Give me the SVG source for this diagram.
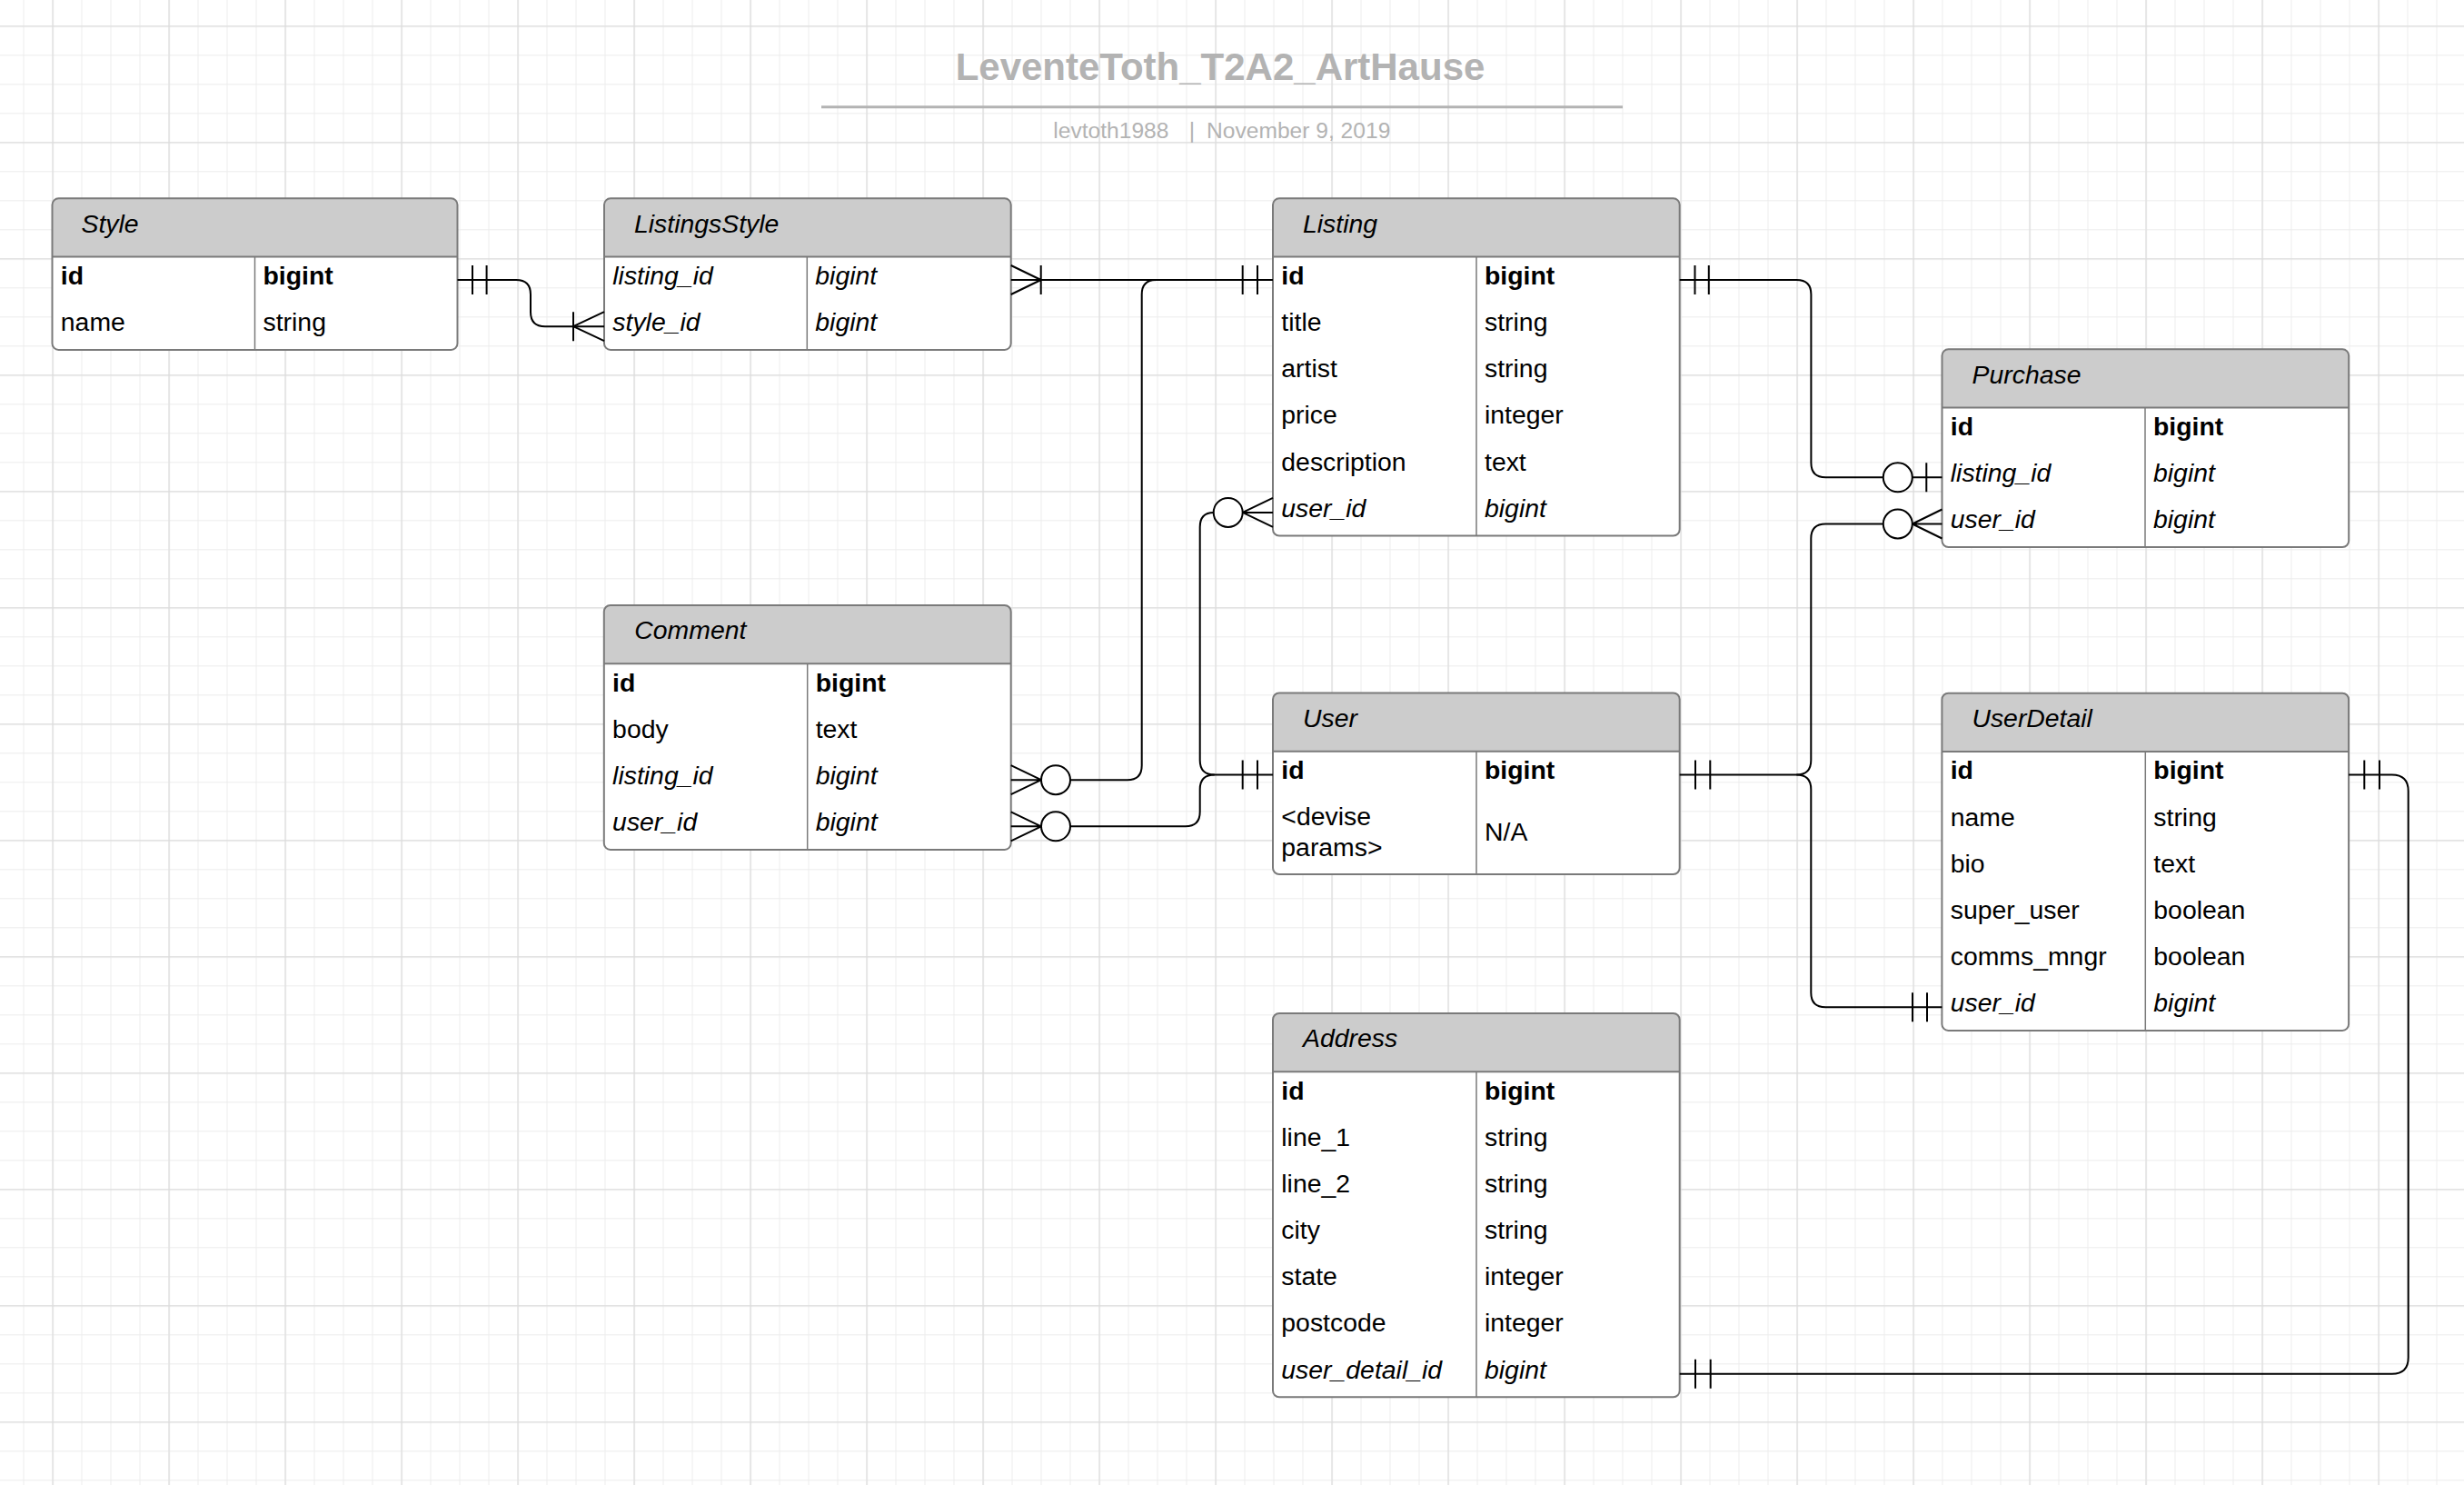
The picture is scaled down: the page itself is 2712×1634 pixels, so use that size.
<svg xmlns="http://www.w3.org/2000/svg" width="2712" height="1634" viewBox="0 0 2712 1634">
<defs>
<pattern id="gMinor" patternUnits="userSpaceOnUse" x="25.5" y="28.3" width="32" height="32">
<rect x="0" y="0" width="1" height="32" fill="#ececec"/>
<rect x="0" y="0" width="32" height="1" fill="#ececec"/>
</pattern>
<pattern id="gMajor" patternUnits="userSpaceOnUse" x="57.5" y="28.3" width="128" height="128">
<rect x="0" y="0" width="1.2" height="128" fill="#dcdcdc"/>
<rect x="0" y="0" width="128" height="1.2" fill="#dcdcdc"/>
</pattern>
<style>
.t{font-family:"Liberation Sans",Arial,sans-serif;font-size:28.4px;fill:#000}
.b{font-weight:bold}
.i{font-style:italic}
.box{fill:none;stroke:#7a7a7a;stroke-width:2}
.hdr{fill:#cccccc}
.sep{stroke:#7a7a7a;stroke-width:2;fill:none}
.div{stroke:#7a7a7a;stroke-width:1.5;fill:none}
.bg{fill:#ffffff}
.ln{fill:none;stroke:#000;stroke-width:2}
.ci{fill:#ffffff;stroke:#000;stroke-width:2}
.ttl{font-family:"Liberation Sans",Arial,sans-serif;font-size:42px;font-weight:bold;fill:#b3b3b3}
.sub{font-family:"Liberation Sans",Arial,sans-serif;font-size:24.6px;fill:#b3b3b3}
</style>
</defs>
<rect width="2712" height="1634" fill="#ffffff"/>
<rect width="2712" height="1634" fill="url(#gMinor)"/>
<rect width="2712" height="1634" fill="url(#gMajor)"/>

<g id="title">
<text class="ttl" x="1343" y="88.3" text-anchor="middle">LeventeToth_T2A2_ArtHause</text>
<line x1="904" y1="117.7" x2="1786" y2="117.7" stroke="#b3b3b3" stroke-width="3"/>
<text class="sub" x="1159.3" y="151.7">levtoth1988</text>
<text class="sub" x="1312" y="151.7" text-anchor="middle">|</text>
<text class="sub" x="1328" y="151.7">November 9, 2019</text>
</g>

<g id="Style">
<rect class="bg" x="57.5" y="218.3" width="446" height="166.6" rx="7"/>
<path class="hdr" d="M57.5 282.6 V225.3 Q57.5 218.3 64.5 218.3 H496.5 Q503.5 218.3 503.5 225.3 V282.6 Z"/>
<path class="sep" d="M57.5 282.6 H503.5"/>
<path class="div" d="M280.5 282.6 V384.9"/>
<rect class="box" x="57.5" y="218.3" width="446" height="166.6" rx="7"/>
<text class="t i" x="89.5" y="255.6">Style</text>
<text class="t b" x="66.8" y="313">id</text><text class="t b" x="289.5" y="313">bigint</text>
<text class="t" x="66.8" y="364.15">name</text><text class="t" x="289.5" y="364.15">string</text>
</g>

<g id="ListingsStyle">
<rect class="bg" x="665" y="218.3" width="447.7" height="166.6" rx="7"/>
<path class="hdr" d="M665 282.6 V225.3 Q665 218.3 672 218.3 H1105.7 Q1112.7 218.3 1112.7 225.3 V282.6 Z"/>
<path class="sep" d="M665 282.6 H1112.7"/>
<path class="div" d="M888.3 282.6 V384.9"/>
<rect class="box" x="665" y="218.3" width="447.7" height="166.6" rx="7"/>
<text class="t i" x="698" y="255.6">ListingsStyle</text>
<text class="t i" x="674.3" y="313">listing_id</text><text class="t i" x="897.3" y="313">bigint</text>
<text class="t i" x="674.3" y="364.15">style_id</text><text class="t i" x="897.3" y="364.15">bigint</text>
</g>

<g id="Listing">
<rect class="bg" x="1401" y="218.3" width="447.7" height="371.2" rx="7"/>
<path class="hdr" d="M1401 282.6 V225.3 Q1401 218.3 1408 218.3 H1841.7 Q1848.7 218.3 1848.7 225.3 V282.6 Z"/>
<path class="sep" d="M1401 282.6 H1848.7"/>
<path class="div" d="M1625 282.6 V589.5"/>
<rect class="box" x="1401" y="218.3" width="447.7" height="371.2" rx="7"/>
<text class="t i" x="1434" y="255.6">Listing</text>
<text class="t b" x="1410.3" y="313">id</text><text class="t b" x="1634" y="313">bigint</text>
<text class="t" x="1410.3" y="364.15">title</text><text class="t" x="1634" y="364.15">string</text>
<text class="t" x="1410.3" y="415.3">artist</text><text class="t" x="1634" y="415.3">string</text>
<text class="t" x="1410.3" y="466.45">price</text><text class="t" x="1634" y="466.45">integer</text>
<text class="t" x="1410.3" y="517.6">description</text><text class="t" x="1634" y="517.6">text</text>
<text class="t i" x="1410.3" y="568.75">user_id</text><text class="t i" x="1634" y="568.75">bigint</text>
</g>

<g id="Purchase">
<rect class="bg" x="2137.5" y="384.3" width="447.7" height="217.75" rx="7"/>
<path class="hdr" d="M2137.5 448.6 V391.3 Q2137.5 384.3 2144.5 384.3 H2578.2 Q2585.2 384.3 2585.2 391.3 V448.6 Z"/>
<path class="sep" d="M2137.5 448.6 H2585.2"/>
<path class="div" d="M2361 448.6 V602.05"/>
<rect class="box" x="2137.5" y="384.3" width="447.7" height="217.75" rx="7"/>
<text class="t i" x="2170.5" y="421.6">Purchase</text>
<text class="t b" x="2146.8" y="479">id</text><text class="t b" x="2370" y="479">bigint</text>
<text class="t i" x="2146.8" y="530.15">listing_id</text><text class="t i" x="2370" y="530.15">bigint</text>
<text class="t i" x="2146.8" y="581.3">user_id</text><text class="t i" x="2370" y="581.3">bigint</text>
</g>

<g id="Comment">
<rect class="bg" x="664.8" y="666" width="447.9" height="268.9" rx="7"/>
<path class="hdr" d="M664.8 730.3 V673 Q664.8 666 671.8 666 H1105.7 Q1112.7 666 1112.7 673 V730.3 Z"/>
<path class="sep" d="M664.8 730.3 H1112.7"/>
<path class="div" d="M888.7 730.3 V934.9"/>
<rect class="box" x="664.8" y="666" width="447.9" height="268.9" rx="7"/>
<text class="t i" x="698.3" y="703.3">Comment</text>
<text class="t b" x="674.1" y="760.7">id</text><text class="t b" x="897.7" y="760.7">bigint</text>
<text class="t" x="674.1" y="811.85">body</text><text class="t" x="897.7" y="811.85">text</text>
<text class="t i" x="674.1" y="863">listing_id</text><text class="t i" x="897.7" y="863">bigint</text>
<text class="t i" x="674.1" y="914.15">user_id</text><text class="t i" x="897.7" y="914.15">bigint</text>
</g>

<g id="User">
<rect class="bg" x="1401" y="762.5" width="447.7" height="199.5" rx="7"/>
<path class="hdr" d="M1401 826.8 V769.5 Q1401 762.5 1408 762.5 H1841.7 Q1848.7 762.5 1848.7 769.5 V826.8 Z"/>
<path class="sep" d="M1401 826.8 H1848.7"/>
<path class="div" d="M1625 826.8 V962"/>
<rect class="box" x="1401" y="762.5" width="447.7" height="199.5" rx="7"/>
<text class="t i" x="1434" y="799.8">User</text>
<text class="t b" x="1410.3" y="857.2">id</text><text class="t b" x="1634" y="857.2">bigint</text>
<text class="t" x="1410.3" y="908.3">&lt;devise</text>
<text class="t" x="1410.3" y="941.7">params&gt;</text>
<text class="t" x="1634" y="925">N/A</text>
</g>

<g id="UserDetail">
<rect class="bg" x="2137.4" y="762.7" width="447.7" height="371.2" rx="7"/>
<path class="hdr" d="M2137.4 827 V769.7 Q2137.4 762.7 2144.4 762.7 H2578.1 Q2585.1 762.7 2585.1 769.7 V827 Z"/>
<path class="sep" d="M2137.4 827 H2585.1"/>
<path class="div" d="M2361.3 827 V1133.9"/>
<rect class="box" x="2137.4" y="762.7" width="447.7" height="371.2" rx="7"/>
<text class="t i" x="2170.4" y="800">UserDetail</text>
<text class="t b" x="2146.7" y="857.4">id</text><text class="t b" x="2370.3" y="857.4">bigint</text>
<text class="t" x="2146.7" y="908.55">name</text><text class="t" x="2370.3" y="908.55">string</text>
<text class="t" x="2146.7" y="959.7">bio</text><text class="t" x="2370.3" y="959.7">text</text>
<text class="t" x="2146.7" y="1010.85">super_user</text><text class="t" x="2370.3" y="1010.85">boolean</text>
<text class="t" x="2146.7" y="1062">comms_mngr</text><text class="t" x="2370.3" y="1062">boolean</text>
<text class="t i" x="2146.7" y="1113.15">user_id</text><text class="t i" x="2370.3" y="1113.15">bigint</text>
</g>

<g id="Address">
<rect class="bg" x="1401" y="1115" width="447.7" height="422.35" rx="7"/>
<path class="hdr" d="M1401 1179.3 V1122 Q1401 1115 1408 1115 H1841.7 Q1848.7 1115 1848.7 1122 V1179.3 Z"/>
<path class="sep" d="M1401 1179.3 H1848.7"/>
<path class="div" d="M1625 1179.3 V1537.35"/>
<rect class="box" x="1401" y="1115" width="447.7" height="422.35" rx="7"/>
<text class="t i" x="1434" y="1152.3">Address</text>
<text class="t b" x="1410.3" y="1209.7">id</text><text class="t b" x="1634" y="1209.7">bigint</text>
<text class="t" x="1410.3" y="1260.85">line_1</text><text class="t" x="1634" y="1260.85">string</text>
<text class="t" x="1410.3" y="1312">line_2</text><text class="t" x="1634" y="1312">string</text>
<text class="t" x="1410.3" y="1363.15">city</text><text class="t" x="1634" y="1363.15">string</text>
<text class="t" x="1410.3" y="1414.3">state</text><text class="t" x="1634" y="1414.3">integer</text>
<text class="t" x="1410.3" y="1465.45">postcode</text><text class="t" x="1634" y="1465.45">integer</text>
<text class="t i" x="1410.3" y="1516.6">user_detail_id</text><text class="t i" x="1634" y="1516.6">bigint</text>
</g>

<g id="connectors">
<!-- Style.id to ListingsStyle.style_id -->
<path class="ln" d="M503.5 308 H568 Q584 308 584 324 V343.2 Q584 359.2 600 359.2 H665"/>
<path class="ln" d="M520 292 V324 M535.6 292 V324"/>
<path class="ln" d="M631 343.2 V375.2 M631 359.2 L665 343.2 M631 359.2 L665 375.2"/>
<!-- ListingsStyle.listing_id to Listing.id -->
<path class="ln" d="M1112.7 308 H1401"/>
<path class="ln" d="M1145.7 292 V324 M1145.7 308 L1112.7 292 M1145.7 308 L1112.7 324"/>
<path class="ln" d="M1367.7 292 V324 M1384 292 V324"/>
<!-- Listing.id to Comment.listing_id -->
<path class="ln" d="M1401 308 H1272.7 Q1256.7 308 1256.7 324 V842.2 Q1256.7 858.2 1240.7 858.2 H1178"/>
<circle class="ci" cx="1162" cy="858.2" r="16"/>
<path class="ln" d="M1146 858.2 H1112.7 M1146 858.2 L1112.7 842.2 M1146 858.2 L1112.7 874.2"/>
<!-- User.id to Listing.user_id -->
<path class="ln" d="M1401 852.4 H1336.7 Q1320.7 852.4 1320.7 836.4 V579.9 Q1320.7 563.9 1335.7 563.9"/>
<circle class="ci" cx="1351.7" cy="563.9" r="16"/>
<path class="ln" d="M1367.7 563.9 H1401 M1367.7 563.9 L1401 547.9 M1367.7 563.9 L1401 579.9"/>
<path class="ln" d="M1367.7 836.4 V868.4 M1384 836.4 V868.4"/>
<!-- User.id to Comment.user_id -->
<path class="ln" d="M1336.7 852.4 Q1320.7 852.4 1320.7 868.4 V893.3 Q1320.7 909.3 1304.7 909.3 H1178"/>
<circle class="ci" cx="1162" cy="909.3" r="16"/>
<path class="ln" d="M1146 909.3 H1112.7 M1146 909.3 L1112.7 893.3 M1146 909.3 L1112.7 925.3"/>
<!-- Listing.id to Purchase.listing_id -->
<path class="ln" d="M1848.7 308 H1977.4 Q1993.4 308 1993.4 324 V509.3 Q1993.4 525.3 2009.4 525.3 H2072.8"/>
<path class="ln" d="M1865.5 292 V324 M1880.8 292 V324"/>
<circle class="ci" cx="2088.8" cy="525.3" r="16"/>
<path class="ln" d="M2104.8 525.3 H2137.5 M2120.3 509.3 V541.3"/>
<!-- User.id to Purchase.user_id -->
<path class="ln" d="M1848.7 852.4 H1977.3 Q1993.3 852.4 1993.3 836.4 V592.5 Q1993.3 576.5 2009.3 576.5 H2072.8"/>
<circle class="ci" cx="2088.8" cy="576.5" r="16"/>
<path class="ln" d="M2104.8 576.5 H2137.5 M2104.8 576.5 L2137.5 560.5 M2104.8 576.5 L2137.5 592.5"/>
<path class="ln" d="M1866 836.4 V868.4 M1882.3 836.4 V868.4"/>
<!-- User.id to UserDetail.user_id -->
<path class="ln" d="M1977.3 852.4 Q1993.3 852.4 1993.3 868.4 V1092.35 Q1993.3 1108.35 2009.3 1108.35 H2137.4"/>
<path class="ln" d="M2105 1092.35 V1124.35 M2121 1092.35 V1124.35"/>
<!-- UserDetail.id to Address.user_detail_id -->
<path class="ln" d="M2585.1 852.5 H2632.7 Q2650.7 852.5 2650.7 870.5 V1493.8 Q2650.7 1511.8 2632.7 1511.8 H1848.7"/>
<path class="ln" d="M2602.3 836.5 V868.5 M2619 836.5 V868.5"/>
<path class="ln" d="M1866 1495.8 V1527.8 M1882.7 1495.8 V1527.8"/>
</g>
</svg>
